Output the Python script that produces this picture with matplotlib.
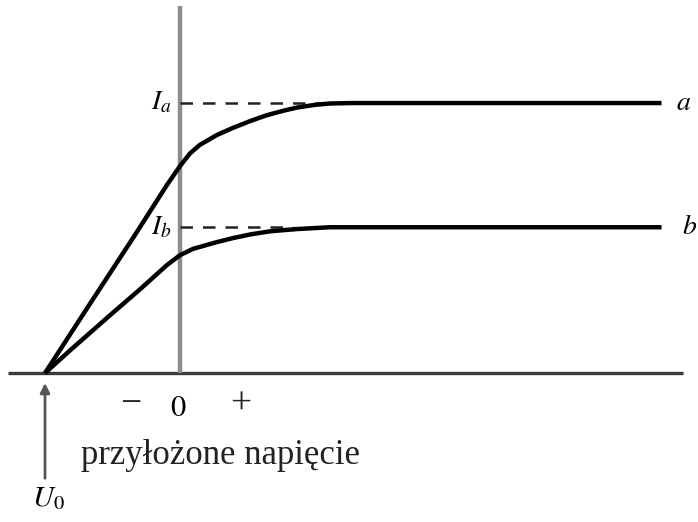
#!/usr/bin/env python3
"""
Photocurrent versus applied voltage for two light intensities (a, b),
both starting at the same stopping voltage U0.
"""
import numpy as np
import matplotlib.pyplot as plt

plt.rcParams['mathtext.fontset'] = 'stix'
plt.rcParams['font.family'] = ['Liberation Serif', 'DejaVu Serif']

# stopping voltage and saturation currents
u_stop = -3.0
i_sat_a = 6.0
i_sat_b = 3.24
v_end = 10.7

# curve a (higher intensity)
volt_a = [-3.0, -2.0, -1.0, -0.29, 0.0, 0.22, 0.44, 0.82, 1.18, 1.56,
          1.93, 2.3, 2.6, 3.0, 3.33, 3.8, 10.7]
curr_a = [0.0, 1.54, 3.07, 4.18, 4.60, 4.88, 5.07, 5.29, 5.45, 5.60,
          5.73, 5.83, 5.90, 5.96, 5.99, 6.0, 6.0]

# curve b (lower intensity)
volt_b = [-3.0, -2.38, -1.56, -0.89, -0.29, 0.0, 0.29, 0.82, 1.18, 1.56,
          2.0, 2.6, 3.33, 10.7]
curr_b = [0.0, 0.56, 1.28, 1.86, 2.40, 2.62, 2.76, 2.91, 3.0, 3.08,
          3.15, 3.20, 3.24, 3.24]

sign_labels = ['\u2212', '0', '+']
sign_pos = [-1.1, -0.04, 1.36]

fig = plt.figure(figsize=(6.98, 5.22), dpi=100)
ax = fig.add_axes([0, 0, 1, 1])
ax.set_xlim(-4.0, 11.51)
ax.set_ylim(-3.31, 8.29)
ax.axis('off')

# axes of the diagram
ax.plot([-3.82, 11.18], [0, 0], color='#3a3a3a', lw=2.4, solid_capstyle='butt')
ax.plot([0, 0], [0, 8.16], color='#8c8c8c', lw=3.2, solid_capstyle='butt')

# saturation levels
ax.plot([0, 3.5], [i_sat_a, i_sat_a], color='#222222', lw=1.8,
        dashes=(5, 4))
ax.plot([0, 2.5], [i_sat_b, i_sat_b], color='#222222', lw=1.8,
        dashes=(5, 4))

ax.plot(volt_a, curr_a, color='black', lw=3.2, solid_capstyle='butt',
        solid_joinstyle='round')
ax.plot(volt_b, curr_b, color='black', lw=3.2, solid_capstyle='butt',
        solid_joinstyle='round')

ax.text(-0.18, i_sat_a, '$I_a$', fontsize=20, ha='right', va='center')
ax.text(-0.18, i_sat_b, '$I_b$', fontsize=20, ha='right', va='center')
ax.text(v_end + 0.48, i_sat_a, '$a$', fontsize=20, ha='center', va='center')
ax.text(v_end + 0.62, i_sat_b, '$b$', fontsize=20, ha='center', va='center')

for lab, x in zip(sign_labels, sign_pos):
    if lab == '0':
        ax.text(x, -0.78, '$0$', fontsize=22, ha='center', va='center')
    else:
        ax.text(x, -0.70, lab, fontsize=27, ha='center', va='center',
                color='#222222')

ax.text(0.89, -1.84, 'przyłożone napięcie', fontsize=25, ha='center',
        va='center', color='#222222')

# marker for the stopping voltage
ax.annotate('', xy=(u_stop, -0.16), xytext=(u_stop, -2.4),
            arrowprops=dict(arrowstyle='-|>', color='#555555', lw=2.0,
                            mutation_scale=14))
ax.text(u_stop + 0.07, -2.8, '$U_0$', fontsize=21, ha='center', va='center')

fig.savefig('out.png', dpi=100)
